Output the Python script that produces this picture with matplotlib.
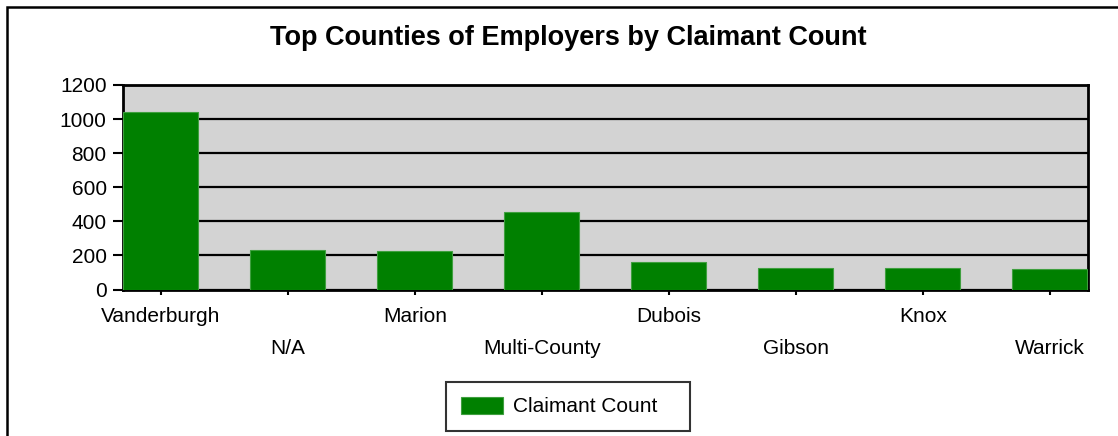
import matplotlib
matplotlib.use("Agg")
import matplotlib.pyplot as plt
from matplotlib.patches import Rectangle

counties = ["Vanderburgh", "N/A", "Marion", "Multi-County", "Dubois", "Gibson", "Knox", "Warrick"]
claimants = [1040, 234, 227, 455, 160, 129, 125, 121]
yticks = [0, 200, 400, 600, 800, 1000, 1200]
series_name = "Claimant Count"

plt.rcParams['font.family'] = ['Liberation Sans', 'DejaVu Sans']

W, H = 1118, 436
fig = plt.figure(figsize=(W / 100, H / 100), dpi=100)

# outer frame (extends beyond the right/bottom edges)
fig.patches.append(Rectangle((7 / W, -0.1), 1.2, 1 - 7 / H + 0.1, transform=fig.transFigure,
                             fill=False, edgecolor='black', linewidth=1.8, zorder=0))

left, right = 122.7 / W, 1088 / W
bottom, top = 1 - 289.5 / H, 1 - 85 / H
ax = fig.add_axes([left, bottom, right - left, top - bottom])
ax.set_facecolor('#d3d3d3')

x = list(range(len(counties)))
ax.bar(x, claimants, width=0.59, color='#008000', edgecolor='#3f9f3f', linewidth=0.8,
       zorder=3, label=series_name + "   ")

ax.set_xlim(-0.3, 7.3)
ax.set_ylim(0, 1200)
ax.set_yticks(yticks)
ax.yaxis.grid(True, color='black', linewidth=1.6, zorder=1)
ax.set_axisbelow(True)

for s in ax.spines.values():
    s.set_linewidth(2)
    s.set_color('black')

ax.tick_params(axis='y', length=7.5, width=1.5, pad=4, labelsize=15)
ax.tick_params(axis='x', length=3.5, width=1.5, pad=9, labelsize=15)
ax.set_xticks(x)
ax.set_xticklabels(counties)
for i, t in enumerate(ax.xaxis.get_major_ticks()):
    if i % 2 == 1:
        t.set_pad(32)

fig.text(568 / W, 1 - 38 / H, 'Top Counties of Employers by Claimant Count',
         ha='center', va='center', fontsize=19.5, fontweight='bold')

leg = fig.legend(loc='center', bbox_to_anchor=(568 / W, 1 - 406.5 / H), fontsize=15,
                 frameon=True, fancybox=False, shadow=False, handlelength=2.0,
                 handleheight=0.9, borderpad=0.72, handletextpad=0.5, borderaxespad=0)
leg.get_frame().set_edgecolor('black')
leg.get_frame().set_linewidth(1.5)

fig.savefig('out.png', dpi=100)
